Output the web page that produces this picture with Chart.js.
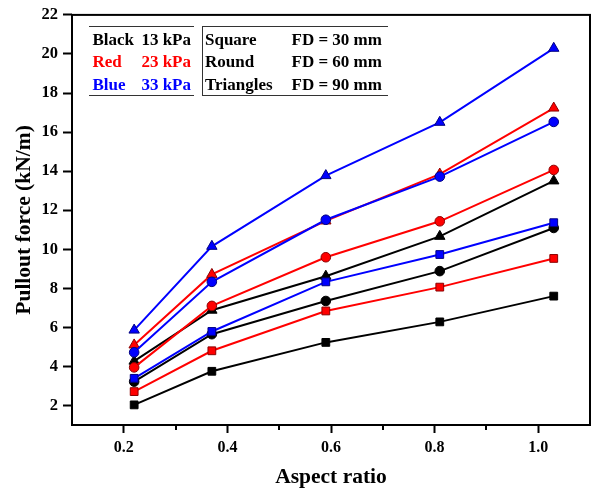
<!DOCTYPE html>
<html>
<head>
<meta charset="utf-8">
<title>Pullout force vs aspect ratio</title>
<script src="https://cdn.jsdelivr.net/npm/chart.js@4.4.0/dist/chart.umd.min.js"></script>
<style>
    body { margin: 0; background: #fff; }
    #wrap { width: 592px; height: 490px; }
</style>
</head>
<body>
<div id="wrap"><canvas id="PulloutChart" width="592" height="490"></canvas></div>
<script>
// Data
const aspectRatio = [0.22, 0.37, 0.59, 0.81, 1.03];
const xTicks = [0.2, 0.4, 0.6, 0.8, 1.0];
const xMinorTicks = [0.3, 0.5, 0.7, 0.9];
const yTicks = [2, 4, 6, 8, 10, 12, 14, 16, 18, 20, 22];

// Black = 13 kPa
const black13Square = [2.03, 3.75, 5.23, 6.28, 7.60];
const black13Round = [3.22, 5.65, 7.35, 8.88, 11.09];
const black13Triangle = [4.27, 6.88, 8.62, 10.66, 13.50];
// Red = 23 kPa
const red23Square = [2.71, 4.80, 6.84, 8.06, 9.53];
const red23Round = [3.95, 7.10, 9.59, 11.43, 14.06];
const red23Triangle = [5.10, 8.71, 11.45, 13.85, 17.23];
// Blue = 33 kPa
const blue33Square = [3.39, 5.79, 8.33, 9.73, 11.36];
const blue33Round = [4.72, 8.33, 11.51, 13.72, 16.52];
const blue33Triangle = [5.86, 10.15, 13.77, 16.50, 20.29];

const FONT = '"Liberation Serif", "Times New Roman", serif';

function serie(valores, color, borde, estilo, radio, orden) {
    return {
        data: valores.map((v, i) => ({ x: aspectRatio[i], y: v })),
        borderColor: color,
        backgroundColor: color,
        pointBackgroundColor: color,
        pointBorderColor: borde,
        pointBorderWidth: 1,
        pointStyle: estilo,
        pointRadius: radio,
        borderWidth: 2,
        tension: 0,
        order: orden
    };
}

// Marco, ticks menores y leyenda
const marcoPlugin = {
    id: 'marco',
    afterDraw(chart) {
        const c = chart.ctx;
        const a = chart.chartArea;
        const xs = chart.scales.x;
        c.save();
        c.strokeStyle = '#000';
        c.lineWidth = 2;
        c.strokeRect(a.left, a.top, a.right - a.left, a.bottom - a.top);

        c.beginPath();
        xMinorTicks.forEach(v => {
            const px = Math.round(xs.getPixelForValue(v));
            c.moveTo(px, a.bottom);
            c.lineTo(px, a.bottom + 5);
        });
        c.stroke();

        // leyenda
        c.strokeStyle = '#333';
        c.lineWidth = 1;
        c.beginPath();
        c.moveTo(89, 26.5); c.lineTo(194, 26.5);
        c.moveTo(202, 26.5); c.lineTo(388, 26.5);
        c.moveTo(89, 95.5); c.lineTo(194, 95.5);
        c.moveTo(202, 95.5); c.lineTo(388, 95.5);
        c.moveTo(202.5, 26.5); c.lineTo(202.5, 95.5);
        c.stroke();

        const filas = [
            ['Black', '13 kPa', '#000000', 'Square', 'FD = 30 mm'],
            ['Red', '23 kPa', '#ff0000', 'Round', 'FD = 60 mm'],
            ['Blue', '33 kPa', '#0000ff', 'Triangles', 'FD = 90 mm']
        ];
        const base = [44.5, 67, 89.5];
        c.font = 'bold 17px ' + FONT;
        c.textBaseline = 'alphabetic';
        filas.forEach((f, i) => {
            c.fillStyle = f[2];
            c.textAlign = 'left';
            c.fillText(f[0], 92.5, base[i]);
            c.textAlign = 'right';
            c.fillText(f[1], 191, base[i]);
            c.fillStyle = '#000';
            c.textAlign = 'left';
            c.fillText(f[3], 205, base[i]);
            c.fillText(f[4], 291.5, base[i]);
        });
        c.restore();
    }
};

document.addEventListener('DOMContentLoaded', function () {
    var ctx = document.getElementById('PulloutChart').getContext('2d');

    var myChart = new Chart(ctx, {
        type: 'line',
        data: {
            datasets: [
                serie(black13Square, '#000000', '#000000', 'rect', 5.5, 3),
                serie(black13Round, '#000000', '#000000', 'circle', 4.8, 3),
                serie(black13Triangle, '#000000', '#000000', 'triangle', 6, 3),
                serie(red23Square, '#ff0000', '#8b0000', 'rect', 5.5, 2),
                serie(red23Round, '#ff0000', '#8b0000', 'circle', 4.8, 2),
                serie(red23Triangle, '#ff0000', '#8b0000', 'triangle', 6, 2),
                serie(blue33Square, '#0000ff', '#000080', 'rect', 5.5, 1),
                serie(blue33Round, '#0000ff', '#000080', 'circle', 4.8, 1),
                serie(blue33Triangle, '#0000ff', '#000080', 'triangle', 6, 1)
            ]
        },
        options: {
            responsive: false,
            animation: false,
            layout: { autoPadding: false, padding: { top: 12, right: 2, left: 0, bottom: 0 } },
            plugins: {
                legend: { display: false },
                tooltip: { enabled: false }
            },
            scales: {
                x: {
                    type: 'linear',
                    min: 0.1,
                    max: 1.1,
                    afterBuildTicks: function (scale) {
                        scale.ticks = xTicks.map(v => ({ value: v }));
                    },
                    afterFit: function (scale) {
                        scale.height = 65;
                        scale.paddingLeft = 0;
                        scale.paddingRight = 0;
                    },
                    ticks: {
                        color: '#000',
                        padding: 5,
                        maxRotation: 0,
                        font: { family: FONT, size: 16, weight: 'bold' },
                        callback: function (value) { return Number(value).toFixed(1); }
                    },
                    grid: { drawOnChartArea: false, tickLength: 8, tickWidth: 2, tickColor: '#000' },
                    border: { display: false },
                    title: {
                        display: true,
                        text: 'Aspect ratio',
                        color: '#000',
                        padding: { top: 0, bottom: 0 },
                        font: { family: FONT, size: 21.5, weight: 'bold' }
                    }
                },
                y: {
                    min: 1,
                    max: 22,
                    afterBuildTicks: function (scale) {
                        scale.ticks = yTicks.map(v => ({ value: v }));
                    },
                    afterFit: function (scale) { scale.width = 72; },
                    ticks: {
                        color: '#000',
                        padding: 5,
                        font: { family: FONT, size: 16.5, weight: 'bold' }
                    },
                    grid: { drawOnChartArea: false, tickLength: 9, tickWidth: 2, tickColor: '#000' },
                    border: { display: false },
                    title: {
                        display: true,
                        text: 'Pullout force (kN/m)',
                        color: '#000',
                        padding: { top: 12, bottom: 0 },
                        font: { family: FONT, size: 21.5, weight: 'bold' }
                    }
                }
            }
        },
        plugins: [marcoPlugin]
    });
});
</script>
</body>
</html>
